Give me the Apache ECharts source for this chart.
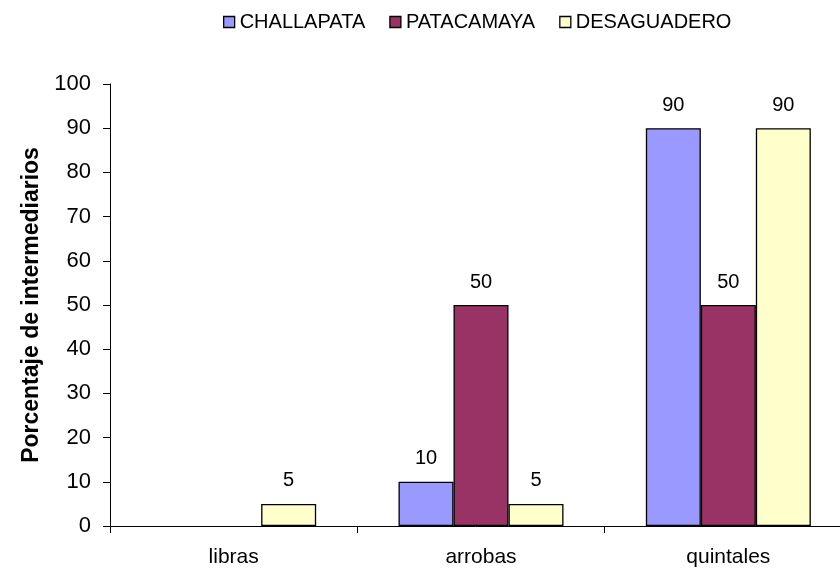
<!DOCTYPE html>
<html>
<head>
<meta charset="utf-8">
<script src="https://cdn.jsdelivr.net/npm/echarts@6/dist/echarts.min.js"></script>
<style>
  html, body { margin: 0; padding: 0; background: #fff; }
  #chart { width: 840px; height: 568px; }
</style>
</head>
<body>
<div id="chart"></div>
<script>
const categories = ['libras', 'arrobas', 'quintales'];
const challapata = [0, 10, 90];
const patacamaya = [0, 50, 50];
const desaguadero = [5, 5, 90];
const yTicks = { min: 0, max: 100, interval: 10 };

const chart = echarts.init(document.getElementById('chart'));

const font = 'Liberation Sans, Arial, sans-serif';

function barSeries(name, data, color) {
    return {
        name: name,
        type: 'bar',
        // zero values have no bar and no label in the original
        data: data.map(function (v) { return v === 0 ? null : v; }),
        barWidth: 55,
        barGap: '0%',
        itemStyle: {
            color: color,
            borderColor: '#000',
            borderWidth: 1.3
        },
        label: {
            show: true,
            position: 'top',
            distance: 13,
            color: '#000',
            fontFamily: font,
            fontSize: 20
        }
    };
}

let option = {
    animation: false,
    textStyle: { fontFamily: font },
    legend: {
        top: 7,
        left: 218,
        itemWidth: 11,
        itemHeight: 11,
        itemGap: 24,
        icon: 'rect',
        textStyle: { fontSize: 20, color: '#000', fontFamily: font },
        itemStyle: { borderColor: '#000', borderWidth: 1.3 }
    },
    grid: {
        left: 110,
        top: 84,
        width: 742,
        height: 442,
        outerBoundsMode: 'none'
    },
    xAxis: {
        type: 'category',
        data: categories,
        axisLine: { lineStyle: { color: '#000', width: 1 } },
        axisTick: { show: true, length: 7, lineStyle: { color: '#000' } },
        axisLabel: { color: '#000', fontSize: 21, margin: 21, fontFamily: font }
    },
    yAxis: {
        type: 'value',
        min: yTicks.min,
        max: yTicks.max,
        interval: yTicks.interval,
        name: 'Porcentaje de intermediarios',
        nameLocation: 'middle',
        nameGap: 64,
        nameTextStyle: { fontSize: 23, fontWeight: 'bold', color: '#000', fontFamily: font },
        axisLine: { show: true, lineStyle: { color: '#000', width: 1 } },
        axisTick: { show: true, length: 7, lineStyle: { color: '#000' } },
        splitLine: { show: false },
        axisLabel: { color: '#000', fontSize: 22, margin: 19, fontFamily: font }
    },
    series: [
        barSeries('CHALLAPATA', challapata, '#9999FF'),
        barSeries('PATACAMAYA', patacamaya, '#993366'),
        barSeries('DESAGUADERO', desaguadero, '#FFFFCC')
    ]
};

chart.setOption(option);
</script>
</body>
</html>
